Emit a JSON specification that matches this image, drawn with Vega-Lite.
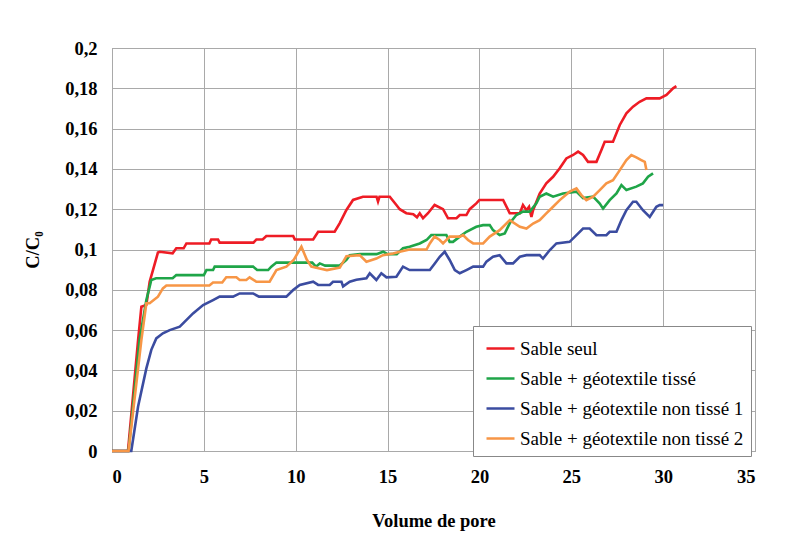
{
  "$schema": "https://vega.github.io/schema/vega-lite/v6.json",
  "width": 643,
  "height": 403,
  "autosize": {"type": "none"},
  "padding": {"left": 112, "top": 48, "right": 45, "bottom": 84},
  "background": "white",
  "datasets": {
    "red": [{"v":0,"c":0},{"v":0.87,"c":0},{"v":1.42,"c":0.055},{"v":1.6,"c":0.0716},{"v":1.87,"c":0.0725},{"v":2.05,"c":0.084},{"v":2.23,"c":0.0898},{"v":2.5,"c":0.0985},{"v":2.6,"c":0.0989},{"v":3.3,"c":0.0981},{"v":3.5,"c":0.1006},{"v":3.9,"c":0.1006},{"v":4.05,"c":0.103},{"v":5.3,"c":0.103},{"v":5.4,"c":0.105},{"v":5.77,"c":0.105},{"v":5.86,"c":0.1034},{"v":7.7,"c":0.1034},{"v":7.86,"c":0.105},{"v":8.2,"c":0.105},{"v":8.4,"c":0.1067},{"v":9.86,"c":0.1067},{"v":9.95,"c":0.105},{"v":10.95,"c":0.105},{"v":11.22,"c":0.1088},{"v":12.12,"c":0.1088},{"v":12.39,"c":0.113},{"v":12.76,"c":0.1196},{"v":13.12,"c":0.1246},{"v":13.66,"c":0.1262},{"v":14.4,"c":0.1262},{"v":14.48,"c":0.1238},{"v":14.56,"c":0.1262},{"v":15.12,"c":0.1262},{"v":15.48,"c":0.1221},{"v":15.66,"c":0.12},{"v":16.02,"c":0.118},{"v":16.4,"c":0.1175},{"v":16.6,"c":0.116},{"v":16.75,"c":0.118},{"v":16.93,"c":0.1155},{"v":17.2,"c":0.118},{"v":17.56,"c":0.1221},{"v":18.02,"c":0.12},{"v":18.29,"c":0.1155},{"v":18.75,"c":0.1155},{"v":18.93,"c":0.1171},{"v":19.29,"c":0.1171},{"v":19.47,"c":0.12},{"v":19.83,"c":0.1229},{"v":20.0,"c":0.1246},{"v":21.29,"c":0.1246},{"v":21.65,"c":0.118},{"v":22.2,"c":0.118},{"v":22.37,"c":0.1221},{"v":22.56,"c":0.1195},{"v":22.7,"c":0.1212},{"v":22.83,"c":0.1162},{"v":22.92,"c":0.1195},{"v":23.28,"c":0.1278},{"v":23.64,"c":0.1328},{"v":24.01,"c":0.1361},{"v":24.37,"c":0.1403},{"v":24.73,"c":0.1452},{"v":25.1,"c":0.1469},{"v":25.37,"c":0.1486},{"v":25.64,"c":0.1469},{"v":25.91,"c":0.1435},{"v":26.37,"c":0.1435},{"v":26.64,"c":0.1494},{"v":26.82,"c":0.1535},{"v":27.27,"c":0.1535},{"v":27.64,"c":0.1618},{"v":28.0,"c":0.1676},{"v":28.36,"c":0.1709},{"v":28.72,"c":0.1733},{"v":29.09,"c":0.175},{"v":29.81,"c":0.175},{"v":30.18,"c":0.1767},{"v":30.54,"c":0.18},{"v":30.72,"c":0.1811}],
    "green": [{"v":0,"c":0},{"v":0.9,"c":0},{"v":1.5,"c":0.0551},{"v":1.87,"c":0.0749},{"v":2.14,"c":0.0849},{"v":2.4,"c":0.0857},{"v":3.3,"c":0.0857},{"v":3.5,"c":0.0873},{"v":5.0,"c":0.0873},{"v":5.14,"c":0.0898},{"v":5.5,"c":0.0898},{"v":5.59,"c":0.0915},{"v":7.68,"c":0.0915},{"v":7.9,"c":0.0898},{"v":8.5,"c":0.0898},{"v":8.67,"c":0.0915},{"v":8.95,"c":0.0935},{"v":10.9,"c":0.0935},{"v":11.1,"c":0.0915},{"v":11.31,"c":0.0931},{"v":11.6,"c":0.092},{"v":12.39,"c":0.092},{"v":12.76,"c":0.0948},{"v":12.94,"c":0.0972},{"v":13.5,"c":0.0977},{"v":14.4,"c":0.0977},{"v":14.76,"c":0.0989},{"v":15.0,"c":0.0977},{"v":15.5,"c":0.0977},{"v":15.84,"c":0.1006},{"v":16.2,"c":0.1014},{"v":16.75,"c":0.103},{"v":17.12,"c":0.1047},{"v":17.38,"c":0.1072},{"v":18.2,"c":0.1072},{"v":18.38,"c":0.1038},{"v":18.56,"c":0.1038},{"v":18.93,"c":0.1064},{"v":19.29,"c":0.1088},{"v":19.83,"c":0.1113},{"v":20.2,"c":0.1121},{"v":20.56,"c":0.1121},{"v":20.74,"c":0.1096},{"v":21.1,"c":0.1072},{"v":21.38,"c":0.108},{"v":21.65,"c":0.113},{"v":22.01,"c":0.1171},{"v":22.37,"c":0.1188},{"v":22.74,"c":0.1188},{"v":23.1,"c":0.1229},{"v":23.28,"c":0.1262},{"v":23.64,"c":0.1278},{"v":24.01,"c":0.1262},{"v":24.55,"c":0.1278},{"v":25.28,"c":0.1287},{"v":25.64,"c":0.1255},{"v":26.19,"c":0.1262},{"v":26.55,"c":0.1228},{"v":26.73,"c":0.1203},{"v":27.09,"c":0.1245},{"v":27.46,"c":0.1278},{"v":27.73,"c":0.132},{"v":28.0,"c":0.1295},{"v":28.54,"c":0.1312},{"v":28.9,"c":0.1328},{"v":29.18,"c":0.1361},{"v":29.45,"c":0.1378}],
    "blue": [{"v":0,"c":0},{"v":1.05,"c":0},{"v":1.42,"c":0.0221},{"v":1.87,"c":0.041},{"v":2.14,"c":0.0502},{"v":2.41,"c":0.0559},{"v":2.77,"c":0.0584},{"v":3.14,"c":0.06},{"v":3.69,"c":0.0617},{"v":4.41,"c":0.0683},{"v":4.96,"c":0.0724},{"v":5.5,"c":0.0749},{"v":5.86,"c":0.0766},{"v":6.59,"c":0.0766},{"v":6.95,"c":0.0782},{"v":7.68,"c":0.0782},{"v":8.0,"c":0.0766},{"v":9.49,"c":0.0766},{"v":9.86,"c":0.0799},{"v":10.22,"c":0.0824},{"v":10.95,"c":0.084},{"v":11.22,"c":0.0824},{"v":11.85,"c":0.0824},{"v":12.03,"c":0.084},{"v":12.49,"c":0.084},{"v":12.58,"c":0.0817},{"v":12.94,"c":0.084},{"v":13.3,"c":0.085},{"v":13.85,"c":0.0857},{"v":14.03,"c":0.0882},{"v":14.39,"c":0.0849},{"v":14.66,"c":0.0882},{"v":14.94,"c":0.0862},{"v":15.48,"c":0.0865},{"v":15.84,"c":0.0915},{"v":16.2,"c":0.0898},{"v":17.3,"c":0.0898},{"v":17.57,"c":0.0931},{"v":17.84,"c":0.0964},{"v":18.11,"c":0.0989},{"v":18.38,"c":0.0948},{"v":18.66,"c":0.0898},{"v":18.93,"c":0.0882},{"v":19.29,"c":0.0898},{"v":19.66,"c":0.0915},{"v":20.2,"c":0.0915},{"v":20.38,"c":0.094},{"v":20.74,"c":0.0964},{"v":21.1,"c":0.0972},{"v":21.47,"c":0.0931},{"v":21.83,"c":0.0931},{"v":22.2,"c":0.0964},{"v":22.56,"c":0.0972},{"v":23.28,"c":0.0972},{"v":23.46,"c":0.0955},{"v":23.82,"c":0.0996},{"v":24.19,"c":0.103},{"v":24.91,"c":0.1038},{"v":25.28,"c":0.1071},{"v":25.64,"c":0.1104},{"v":26.0,"c":0.1104},{"v":26.37,"c":0.1071},{"v":26.91,"c":0.1071},{"v":27.09,"c":0.1088},{"v":27.46,"c":0.1088},{"v":27.73,"c":0.1146},{"v":28.0,"c":0.1195},{"v":28.36,"c":0.1237},{"v":28.54,"c":0.1237},{"v":28.9,"c":0.1195},{"v":29.27,"c":0.1162},{"v":29.63,"c":0.1212},{"v":29.81,"c":0.122},{"v":30.0,"c":0.122}],
    "orange": [{"v":0,"c":0},{"v":0.9,"c":0},{"v":1.6,"c":0.0551},{"v":1.87,"c":0.0733},{"v":2.05,"c":0.0733},{"v":2.5,"c":0.0766},{"v":2.77,"c":0.0807},{"v":2.96,"c":0.0821},{"v":5.3,"c":0.0821},{"v":5.5,"c":0.0836},{"v":6.0,"c":0.0836},{"v":6.22,"c":0.0862},{"v":6.77,"c":0.0862},{"v":6.95,"c":0.0849},{"v":7.31,"c":0.0849},{"v":7.49,"c":0.0862},{"v":7.86,"c":0.084},{"v":8.58,"c":0.084},{"v":8.95,"c":0.0898},{"v":9.49,"c":0.0915},{"v":9.9,"c":0.095},{"v":10.31,"c":0.1014},{"v":10.6,"c":0.095},{"v":10.85,"c":0.0915},{"v":11.3,"c":0.0906},{"v":11.7,"c":0.0898},{"v":12.4,"c":0.091},{"v":12.76,"c":0.0967},{"v":13.48,"c":0.0972},{"v":13.85,"c":0.0939},{"v":14.39,"c":0.0955},{"v":14.75,"c":0.0972},{"v":15.3,"c":0.098},{"v":15.66,"c":0.0989},{"v":16.2,"c":0.1},{"v":17.12,"c":0.1},{"v":17.3,"c":0.103},{"v":17.56,"c":0.1064},{"v":17.84,"c":0.1047},{"v":18.02,"c":0.103},{"v":18.38,"c":0.1064},{"v":18.93,"c":0.1064},{"v":19.11,"c":0.1072},{"v":19.38,"c":0.1047},{"v":19.66,"c":0.103},{"v":20.2,"c":0.103},{"v":20.56,"c":0.1064},{"v":21.1,"c":0.1096},{"v":21.65,"c":0.1146},{"v":22.2,"c":0.1113},{"v":22.56,"c":0.1104},{"v":22.92,"c":0.1129},{"v":23.28,"c":0.1146},{"v":23.64,"c":0.1179},{"v":24.01,"c":0.1212},{"v":24.37,"c":0.1245},{"v":24.91,"c":0.1287},{"v":25.28,"c":0.1303},{"v":25.55,"c":0.127},{"v":25.82,"c":0.1245},{"v":26.19,"c":0.1262},{"v":26.55,"c":0.1295},{"v":26.91,"c":0.1328},{"v":27.27,"c":0.1344},{"v":27.64,"c":0.1394},{"v":28.0,"c":0.1444},{"v":28.27,"c":0.1469},{"v":28.54,"c":0.1457},{"v":28.81,"c":0.1444},{"v":29.0,"c":0.1435},{"v":29.09,"c":0.1394}]
  },
  "encoding": {
    "x": {"field": "v", "type": "quantitative", "scale": {"domain": [0, 35], "nice": false, "zero": false},
      "axis": {"values": [0,5,10,15,20,25,30,35], "title": "Volume de pore", "labelPadding": 16, "titlePadding": 26, "ticks": false, "domain": false}},
    "y": {"field": "c", "type": "quantitative", "scale": {"domain": [0, 0.2], "nice": false},
      "axis": {"values": [0,0.02,0.04,0.06,0.08,0.1,0.12,0.14,0.16,0.18,0.2], "labelExpr": "replace(format(datum.value, '~g'), '.', ',')", "title": "C/C₀", "labelPadding": 15, "titlePadding": 22, "ticks": false, "domain": false}}
  },
  "layer": [
    {"data": {"name": "red"}, "mark": {"type": "line", "strokeWidth": 2.6},
     "encoding": {"color": {"datum": "Sable seul", "type": "nominal",
      "scale": {"domain": ["Sable seul", "Sable + géotextile tissé", "Sable + géotextile non tissé 1", "Sable + géotextile non tissé 2"], "range": ["#EE1C25", "#1FA548", "#3B4CA0", "#F79646"]},
      "legend": {"orient": "none", "legendX": 361, "legendY": 278, "title": null, "symbolType": "stroke", "symbolSize": 784, "symbolStrokeWidth": 2.5, "symbolOffset": 5, "labelFontSize": 19, "labelFont": "Liberation Serif", "labelColor": "#000", "labelOffset": 4, "rowPadding": 4, "padding": 7, "strokeColor": "#888888", "fillColor": "white", "labelLimit": 400}}}},
    {"data": {"name": "green"}, "mark": {"type": "line", "strokeWidth": 2.6}, "encoding": {"color": {"datum": "Sable + géotextile tissé", "type": "nominal"}}},
    {"data": {"name": "blue"}, "mark": {"type": "line", "strokeWidth": 2.6}, "encoding": {"color": {"datum": "Sable + géotextile non tissé 1", "type": "nominal"}}},
    {"data": {"name": "orange"}, "mark": {"type": "line", "strokeWidth": 2.6}, "encoding": {"color": {"datum": "Sable + géotextile non tissé 2", "type": "nominal"}}}
  ],
  "config": {
    "view": {"stroke": "#8c8c8c", "strokeWidth": 1},
    "axis": {"gridColor": "#a9a9a9", "gridWidth": 1, "gridOpacity": 1, "labelFont": "Liberation Serif", "labelFontSize": 18.5, "labelFontWeight": "bold", "labelColor": "#000", "titleFont": "Liberation Serif", "titleFontSize": 18.5, "titleFontWeight": "bold", "titleColor": "#000"}
  }
}
